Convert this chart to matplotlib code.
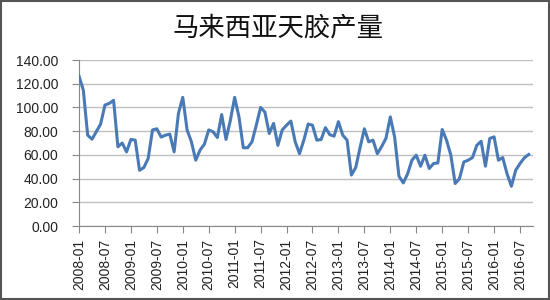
import matplotlib.pyplot as plt
from matplotlib.patches import Rectangle

# monthly output, 2008-01 .. 2016-09
months = [f"{y}-{m:02d}" for y in range(2008, 2017) for m in range(1, 13)][:105]
output = [
    126.5, 114.6, 76.6, 73.2, 79.5, 86.0, 102.0, 103.4, 106.0, 66.8, 70.0, 62.5,
    73.0, 72.4, 47.0, 49.3, 57.0, 81.0, 82.0, 75.0, 76.6, 77.5, 62.5, 95.0,
    108.5, 81.0, 71.0, 55.5, 64.0, 69.0, 81.0, 79.5, 74.6, 94.0, 73.0, 89.0,
    108.5, 92.0, 66.0, 66.0, 71.0, 85.0, 100.0, 96.0, 78.0, 86.5, 68.0, 81.0,
    85.0, 88.5, 71.0, 61.0, 72.4, 86.0, 85.0, 72.4, 73.0, 83.0, 77.0, 75.8,
    88.0, 76.6, 72.4, 43.0, 49.3, 66.0, 82.0, 71.0, 72.4, 61.0, 67.0, 74.0,
    92.0, 75.0, 42.0, 36.3, 44.0, 55.5, 59.7, 50.4, 59.7, 48.5, 52.7, 53.2,
    81.4, 72.4, 59.7, 35.8, 40.0, 54.0, 55.5, 57.7, 68.0, 71.5, 50.4, 73.8,
    75.2, 55.5, 57.7, 44.0, 33.5, 47.0, 52.7, 57.5, 60.3,
]
yticks = [0, 20, 40, 60, 80, 100, 120, 140]
title = "马来西亚天胶产量"

plt.rcParams['font.family'] = ['Liberation Sans', 'DejaVu Sans']

fig = plt.figure(figsize=(5.5, 3.0), dpi=100)
ax = fig.add_axes([79 / 550, 1 - 226 / 300, (533 - 79) / 550, (226 - 60) / 300])

x = list(range(len(output)))
ax.plot(x, output, color='#4a7ab5', linewidth=2.2, solid_joinstyle='round', zorder=3)

ax.set_xlim(0, 105)
ax.set_ylim(0, 140)
ax.set_yticks(yticks)
ax.set_yticklabels([f"{v:.2f}" for v in yticks], fontsize=10, color='#222222')
ax.set_xticks(x[::6])
ax.set_xticklabels(months[::6], rotation=90, fontsize=10, color='#222222')

ax.grid(axis='y', color='#c0c0c0', linewidth=1.0)
ax.set_axisbelow(True)
for s in ['top', 'right']:
    ax.spines[s].set_visible(False)
for s in ['left', 'bottom']:
    ax.spines[s].set_color('#888888')
ax.tick_params(axis='both', direction='out', length=5, color='#888888', width=0.8)
ax.tick_params(axis='y', pad=10)
ax.tick_params(axis='x', pad=4)

fig.text(0.505, 1 - 28 / 300, title, ha='center', va='center', fontsize=19,
         family=['Noto Sans CJK SC', 'DejaVu Sans'], weight='light', color='#111111')

fig.patches.append(Rectangle((0.002, 0.003), 0.996, 0.994, transform=fig.transFigure,
                             fill=False, edgecolor='#555555', linewidth=1.5))

fig.savefig('out.png', dpi=100)
